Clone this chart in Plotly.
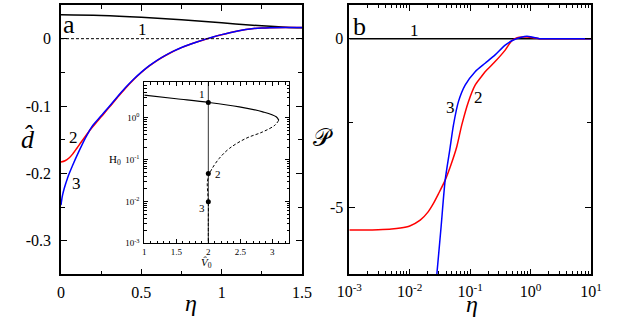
import plotly.graph_objects as go

# ---------------- data: panel a ----------------
eta_a1 = [0, 0.25, 0.5, 0.75, 1.0, 1.25, 1.4, 1.5]
d_1 = [0.0355, 0.0345, 0.0318, 0.028, 0.0235, 0.019, 0.017, 0.0162]

eta_a2 = [0, 0.025, 0.05, 0.075, 0.1, 0.125, 0.15, 0.175, 0.2, 0.25, 0.3, 0.35, 0.4, 0.45, 0.5, 0.55,
          0.6, 0.65, 0.7, 0.75, 0.8, 0.85, 0.9, 0.95, 1.0, 1.05, 1.1, 1.15, 1.2, 1.25, 1.3, 1.4, 1.5]
d_2 = [-0.183, -0.1813, -0.1772, -0.1705, -0.1623, -0.1538, -0.1455, -0.1375, -0.1300, -0.1160,
       -0.1020, -0.0876, -0.0738, -0.0613, -0.0502, -0.0405, -0.0321, -0.0250, -0.0187, -0.0133,
       -0.0087, -0.0046, -0.0008, 0.0027, 0.0059, 0.0088, 0.0114, 0.0135, 0.0150, 0.0159, 0.0163,
       0.0165, 0.0165]

eta_a3 = [0, 0.005, 0.01, 0.02, 0.03, 0.04, 0.05, 0.07, 0.09, 0.11, 0.13, 0.15, 0.175, 0.2, 0.25,
          0.3, 0.35, 0.4, 0.45, 0.5, 0.55, 0.6, 0.65, 0.7, 0.75, 0.8, 0.85, 0.9, 0.95, 1.0, 1.05, 1.1,
          1.15, 1.2, 1.25, 1.3, 1.4, 1.5]
d_3 = [-0.247, -0.2385, -0.2320, -0.2225, -0.2145, -0.2075, -0.2010, -0.1895, -0.1785, -0.1680,
       -0.1580, -0.1485, -0.1375, -0.1282, -0.1145, -0.1008, -0.0866, -0.0730, -0.0606, -0.0496,
       -0.0400, -0.0317, -0.0247, -0.0185, -0.0131, -0.0086, -0.0045, -0.0007, 0.0028, 0.0060,
       0.0089, 0.0115, 0.0135, 0.0150, 0.0159, 0.0163, 0.0165, 0.0165]

# ---------------- data: panel b ----------------
eta_b1 = [0.001, 10]
P_1 = [0, 0]

eta_b2 = [0.001, 0.002, 0.003, 0.005, 0.007, 0.01, 0.0149, 0.02, 0.0247, 0.03, 0.0386, 0.048,
          0.0602, 0.0727, 0.0937, 0.121, 0.15, 0.177, 0.259, 0.38, 0.49, 0.6, 0.75, 0.88, 1.1, 1.4, 2.0, 3.0, 10]
P_2 = [-5.68, -5.68, -5.67, -5.65, -5.62, -5.56, -5.39, -5.15, -4.89, -4.60, -4.20, -3.75,
       -3.20, -2.56, -1.87, -1.38, -1.15, -0.98, -0.68, -0.34, -0.06, 0.03, 0.05, 0.05, 0.03, 0.0, 0, 0, 0]

eta_b3 = [0.0281, 0.033, 0.0386, 0.046, 0.053, 0.064, 0.0826, 0.121, 0.177, 0.259, 0.38, 0.52,
          0.7, 0.87, 1.1, 1.41, 2.0, 3.0, 10]
P_3 = [-7.0, -5.6, -4.20, -3.30, -2.56, -1.87, -1.38, -0.98, -0.73, -0.48, -0.19, -0.04,
       0.04, 0.07, 0.04, 0.0, 0, 0, 0]

# ---------------- data: inset ----------------
V_solid = [1.0, 1.5, 2.01, 2.485, 2.85, 3.06, 3.1]
H_solid = [3.49, 2.86, 2.33, 1.83, 1.39, 1.06, 0.88]
V_dash = [3.1, 3.04, 2.85, 2.59, 2.33, 2.17, 2.06, 2.02, 1.985, 1.99, 2.0, 2.0, 2.0]
H_dash = [0.88, 0.668, 0.462, 0.324, 0.186, 0.107, 0.0617, 0.0468, 0.0295, 0.017, 0.0098, 0.0032, 0.001]
V_pts = [2.0, 2.0, 2.0]
H_pts = [2.33, 0.047, 0.0098]

# tick labels
xa_vals = [0, 0.5, 1, 1.5]
xa_text = ["0", "0.5", "1", "1.5"]
ya_vals = [0, -0.1, -0.2, -0.3]
ya_text = ["0", "-0.1", "-0.2", "-0.3"]
xb_vals = [0.001, 0.01, 0.1, 1, 10]
xb_text = ["10<sup>-3</sup>", "10<sup>-2</sup>", "10<sup>-1</sup>", "10<sup>0</sup>", "10<sup>1</sup>"]
yb_vals = [0, -5]
yb_text = ["0", "-5"]
xi_vals = [1, 1.5, 2, 2.5, 3]
xi_text = ["1", "1.5", "2", "2.5", "3"]
yi_vals = [0.001, 0.01, 0.1, 1]
yi_text = ["10<sup>-3</sup>", "10<sup>-2</sup>", "10<sup>-1</sup>", "10<sup>0</sup>"]

FONT = "Liberation Serif, 'Times New Roman', Times, 'DejaVu Serif', serif"
RED = "#ff0000"
BLUE = "#0000ff"

fig = go.Figure()
# panel a
fig.add_trace(go.Scatter(x=eta_a1, y=d_1, mode="lines", line=dict(color="black", width=1.5, shape="spline"), xaxis="x", yaxis="y"))
fig.add_trace(go.Scatter(x=eta_a2, y=d_2, mode="lines", line=dict(color=RED, width=1.5, shape="spline"), xaxis="x", yaxis="y"))
fig.add_trace(go.Scatter(x=eta_a3, y=d_3, mode="lines", line=dict(color=BLUE, width=1.5, shape="spline"), xaxis="x", yaxis="y"))
# panel b
fig.add_trace(go.Scatter(x=eta_b1, y=P_1, mode="lines", line=dict(color="black", width=1.5), xaxis="x2", yaxis="y2"))
fig.add_trace(go.Scatter(x=eta_b2, y=P_2, mode="lines", line=dict(color=RED, width=1.5, shape="spline", smoothing=0.7), xaxis="x2", yaxis="y2"))
fig.add_trace(go.Scatter(x=eta_b3, y=P_3, mode="lines", line=dict(color=BLUE, width=1.5, shape="spline", smoothing=0.7), xaxis="x2", yaxis="y2"))
# inset
fig.add_trace(go.Scatter(x=V_solid, y=H_solid, mode="lines", line=dict(color="black", width=1.2, shape="spline"), xaxis="x3", yaxis="y3"))
fig.add_trace(go.Scatter(x=V_dash, y=H_dash, mode="lines", line=dict(color="black", width=1, dash="3px,2px", shape="spline"), xaxis="x3", yaxis="y3"))
fig.add_trace(go.Scatter(x=V_pts, y=H_pts, mode="markers", marker=dict(color="black", size=5), xaxis="x3", yaxis="y3"))

# reference lines
fig.add_shape(type="line", xref="x domain", yref="y", x0=0, x1=1, y0=0, y1=0,
              line=dict(color="black", width=1, dash="3px,2px"))
fig.add_shape(type="line", xref="x3", yref="y3 domain", x0=2, x1=2, y0=0, y1=1,
              line=dict(color="black", width=0.8))

tickfont = dict(family=FONT, size=16, color="black")
common = dict(showline=True, linecolor="black", linewidth=1.5, mirror="ticks", ticks="inside",
              tickcolor="black", tickwidth=1.2, ticklen=6, showgrid=False, zeroline=False,
              tickfont=tickfont, tickmode="array", automargin=False)

dom_y = [0.137, 0.9843]
fig.update_layout(
    template="none",
    width=623, height=318, margin=dict(l=0, r=0, t=0, b=0, pad=0),
    paper_bgcolor="white", plot_bgcolor="white", showlegend=False,
    font=dict(family=FONT, color="black"),
    xaxis=dict(domain=[0.0979, 0.4848], range=[0, 1.5], anchor="y", tickvals=xa_vals, ticktext=xa_text,
               ticklabelstandoff=3,
               minor=dict(ticks="inside", dtick=0.25, ticklen=4, tickcolor="black", tickwidth=1.2), **common),
    yaxis=dict(domain=dom_y, range=[-0.35, 0.05], anchor="x", tickvals=ya_vals, ticktext=ya_text,
               ticklabelstandoff=5,
               minor=dict(ticks="inside", dtick=0.05, tick0=0, ticklen=4, tickcolor="black", tickwidth=1.2), **common),
    xaxis2=dict(domain=[0.5607, 0.9486], type="log", range=[-3, 1], anchor="y2", tickvals=xb_vals, ticktext=xb_text,
                ticklabelstandoff=2,
                minor=dict(ticks="inside", ticklen=3.5, tickcolor="black", tickwidth=1,
                           tickmode="array", tickvals=[m * 10 ** e for e in range(-3, 1) for m in range(2, 10)]),
                **common),
    yaxis2=dict(domain=dom_y, range=[-7, 1], anchor="x2", tickvals=yb_vals, ticktext=yb_text,
                ticklabelstandoff=1,
                minor=dict(ticks="inside", dtick=2.5, tick0=0, ticklen=4, tickcolor="black", tickwidth=1.2), **common),
)
inset_common = dict(common)
inset_common.update(linewidth=1, ticklen=4, tickwidth=0.8, tickfont=dict(family=FONT, size=9, color="black"))
fig.update_layout(
    xaxis3=dict(domain=[0.2316, 0.4639], range=[1, 3.26], anchor="y3", tickvals=xi_vals, ticktext=xi_text,
                ticklabelstandoff=0,
                minor=dict(ticks="inside", dtick=0.1, tick0=1, ticklen=2.5, tickcolor="black", tickwidth=0.7),
                **inset_common),
    yaxis3=dict(domain=[0.2349, 0.7412], type="log", range=[-3, 0.85], anchor="x3", tickvals=yi_vals, ticktext=yi_text,
                ticklabelstandoff=2,
                minor=dict(ticks="inside", ticklen=2.5, tickcolor="black", tickwidth=0.7,
                           tickmode="array", tickvals=[m * 10 ** e for e in range(-3, 1) for m in range(2, 10)]),
                **inset_common),
)

ann = []
def A(text, x, y, size, xref="paper", yref="paper", italic=False):
    t = f"<i>{text}</i>" if italic else text
    ann.append(dict(text=t, x=x, y=y, xref=xref, yref=yref, showarrow=False,
                    font=dict(family=FONT, size=size, color="black"), xanchor="center", yanchor="middle"))

A("a", 0.1108, 0.9245, 26)
A("b", 0.5778, 0.918, 26)
A("1", 0.51, 0.0137, 17, "x", "y")
A("2", 0.076, -0.146, 17, "x", "y")
A("3", 0.096, -0.215, 17, "x", "y")
A("1", -1.927, 0.23, 17, "x2", "y2")
A("3", -1.331, -2.03, 17, "x2", "y2")
A("2", -0.868, -1.76, 17, "x2", "y2")
A("1", 1.907, 0.56, 11, "x3", "y3")
A("2", 2.144, -1.354, 11, "x3", "y3")
A("3", 1.907, -2.167, 11, "x3", "y3")
A("H<sub>0</sub>", 0.1846, 0.497, 11)
A("<i>V̂</i><sub>0</sub>", 0.3318, 0.173, 11)
A("d̂", 0.045, 0.56, 26, italic=True)
A("η", 0.3066, 0.046, 24, italic=True)
A("𝒫", 0.518, 0.566, 24)
A("η", 0.757, 0.044, 24, italic=True)
fig.update_layout(annotations=ann)

fig.write_html("out.html", config={"displayModeBar": False},
               post_script="document.body.style.margin='0px';document.body.style.overflow='hidden';")
